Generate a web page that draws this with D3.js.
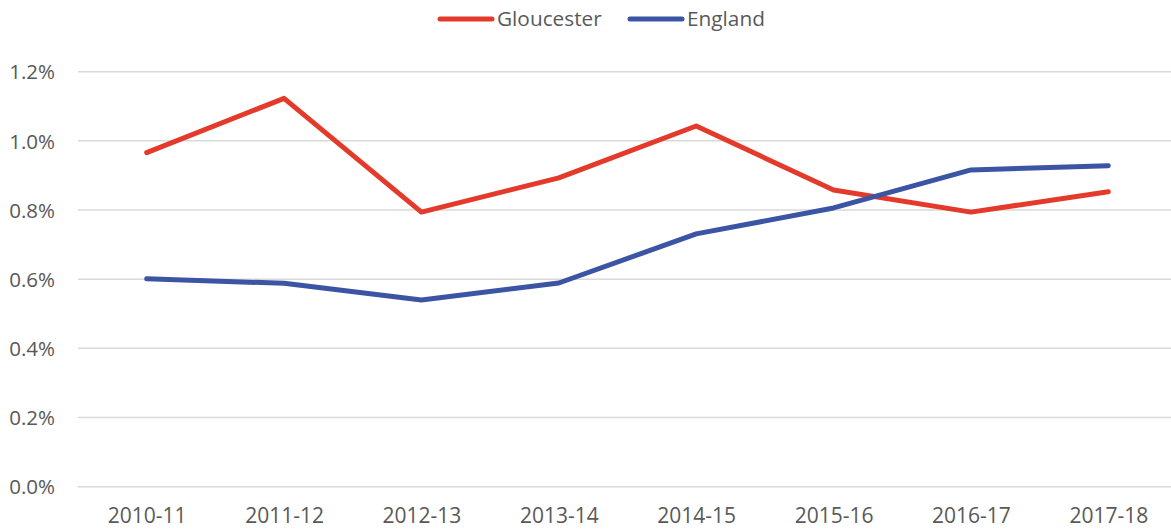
<!DOCTYPE html>
<html>
<head>
<meta charset="utf-8">
<script src="https://cdnjs.cloudflare.com/ajax/libs/d3/7.8.5/d3.min.js"></script>
<style>
    body { margin: 0; background: #fff; }
    text { font-family: "Open Sans", "Liberation Sans", sans-serif; fill: #595959; }
</style>
</head>
<body>
<div id="chart"></div>
<script>
// values (percent)
var years = ["2010-11", "2011-12", "2012-13", "2013-14", "2014-15", "2015-16", "2016-17", "2017-18"];
var gloucester = [0.966, 1.123, 0.794, 0.893, 1.043, 0.858, 0.794, 0.853];
var england = [0.601, 0.588, 0.540, 0.589, 0.731, 0.806, 0.916, 0.928];
var yTicks = [0, 0.2, 0.4, 0.6, 0.8, 1.0, 1.2];

var width = 1171,
    height = 532;
var margin = { left: 78, right: -6, top: 71.7, bottom: 45.3 };

var svg = d3.select("#chart")
    .append("svg")
    .attr("width", width)
    .attr("height", height);

var xScale = d3.scalePoint()
    .domain(years)
    .range([margin.left, width - margin.right])
    .padding(0.5);

var yScale = d3.scaleLinear()
    .domain([0, 1.2])
    .range([height - margin.bottom, margin.top]);

// gridlines
svg.append("g")
    .selectAll("line")
    .data(yTicks)
    .enter()
    .append("line")
    .attr("x1", margin.left)
    .attr("x2", width)
    .attr("y1", function (d) { return yScale(d); })
    .attr("y2", function (d) { return yScale(d); })
    .attr("stroke", "#d9d9d9")
    .attr("stroke-width", 1.5);

// y axis
var yAxis = d3.axisLeft(yScale)
    .tickValues(yTicks)
    .tickSize(0)
    .tickPadding(0)
    .tickFormat(function (d) { return d.toFixed(1) + "%"; });

svg.append("g")
    .attr("class", "axis y")
    .attr("transform", "translate(55,0)")
    .call(yAxis)
    .call(function (g) { g.select(".domain").remove(); })
    .selectAll("text")
    .attr("font-size", "20.5px")
    .attr("dy", "0.35em");

// x axis
var xAxis = d3.axisBottom(xScale).tickSize(0).tickPadding(0);

svg.append("g")
    .attr("class", "axis x")
    .attr("transform", "translate(0," + (height - margin.bottom + 21) + ")")
    .call(xAxis)
    .call(function (g) { g.select(".domain").remove(); })
    .selectAll("text")
    .attr("font-size", "21px")
    .attr("dy", "0.71em");

svg.selectAll(".axis text").style("fill", "#595959");

var line = d3.line()
    .x(function (d, i) { return xScale(years[i]); })
    .y(function (d) { return yScale(d); });

var series = [
    { name: "Gloucester", values: gloucester, color: "#e43a2b" },
    { name: "England", values: england, color: "#3b54a4" }
];

series.forEach(function (s) {
    svg.append("path")
        .attr("d", line(s.values))
        .attr("fill", "none")
        .attr("stroke", s.color)
        .attr("stroke-width", 5)
        .attr("stroke-linecap", "round")
        .attr("stroke-linejoin", "round");
});

// legend
var legendX = [440, 630];
series.forEach(function (s, i) {
    var g = svg.append("g").attr("transform", "translate(" + legendX[i] + ",19)");
    g.append("line")
        .attr("x1", 0)
        .attr("x2", 52)
        .attr("stroke", s.color)
        .attr("stroke-width", 5)
        .attr("stroke-linecap", "round");
    g.append("text")
        .attr("x", 57)
        .attr("dy", "0.35em")
        .attr("font-size", "20.8px")
        .text(s.name);
});
</script>
</body>
</html>
